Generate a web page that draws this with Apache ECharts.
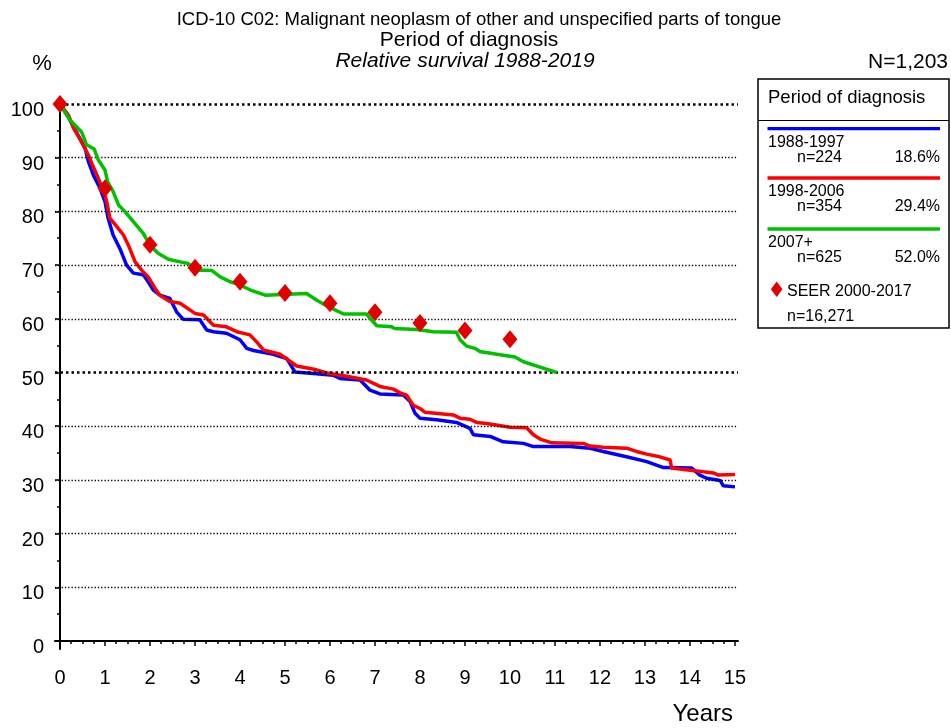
<!DOCTYPE html>
<html>
<head>
<meta charset="utf-8">
<script src="https://cdn.jsdelivr.net/npm/echarts@6/dist/echarts.min.js"></script>
<style>
html,body{margin:0;padding:0;background:#fff;}
#chart{width:951px;height:728px;}
</style>
</head>
<body>
<div id="chart"></div>
<script>
// ---- data ----
var titleLines = ['ICD-10 C02: Malignant neoplasm of other and unspecified parts of tongue', 'Period of diagnosis', 'Relative survival 1988-2019'];
var totalN = 'N=1,203';
var xTicks = [0,1,2,3,4,5,6,7,8,9,10,11,12,13,14,15];
var xMinorTicks = [0.25,0.5,0.75,1.25,1.5,1.75,2.25,2.5,2.75,3.25,3.5,3.75,4.25,4.5,4.75,5.25,5.5,5.75,6.25,6.5,6.75,7.25,7.5,7.75,8.25,8.5,8.75,9.25,9.5,9.75,10.25,10.5,10.75,11.25,11.5,11.75,12.25,12.5,12.75,13.25,13.5,13.75,14.25,14.5,14.75];
var yTicks = [0,10,20,30,40,50,60,70,80,90,100];
var yMinorTicks = [5,15,25,35,45,55,65,75,85,95];
var gridValues = [10,20,30,40,50,60,70,80,90,100];
var boldGridValues = [50,100];

var legendNames = ['1988-1997','1998-2006','2007+'];
var legendN = ['n=224','n=354','n=625'];
var legendPct = ['18.6%','29.4%','52.0%'];
var seerName = 'SEER 2000-2017';
var seerN = 'n=16,271';

var curve1988 = [[0,100],[0.19,97.5],[0.35,95],[0.56,91.7],[0.63,89.3],[0.74,86.8],[0.89,84.3],[1.0,81.8],[1.07,78.7],[1.18,75.6],[1.33,73.1],[1.48,70.0],[1.63,68.5],[1.85,68.2],[1.96,66.9],[2.07,65.4],[2.22,64.4],[2.44,63.8],[2.59,61.3],[2.74,59.9],[3.11,59.8],[3.26,57.9],[3.41,57.6],[3.70,57.3],[4.0,56.1],[4.15,54.5],[4.30,54.1],[4.74,53.4],[5.04,52.6],[5.22,50.1],[5.63,49.8],[6.07,49.5],[6.22,48.9],[6.67,48.6],[6.89,46.7],[7.11,46.0],[7.63,45.8],[7.78,44.6],[7.89,42.4],[8.0,41.5],[8.37,41.2],[8.81,40.7],[9.11,39.6],[9.19,38.4],[9.56,38.1],[9.85,37.1],[10.30,36.8],[10.52,36.2],[11.33,36.2],[11.78,35.9],[12.07,35.3],[12.59,34.3],[13.04,33.4],[13.41,32.3],[14.04,32.2],[14.22,30.9],[14.37,30.3],[14.67,29.9],[14.74,28.9],[15.0,28.7]];
var curve1998 = [[0,100],[0.19,97.9],[0.30,95.5],[0.48,93.0],[0.63,90.5],[0.74,88.3],[0.85,86.2],[0.96,84.0],[1.04,81.8],[1.11,78.7],[1.26,77.2],[1.41,75.6],[1.52,73.7],[1.67,70.6],[1.81,69.1],[1.96,67.8],[2.11,65.7],[2.22,64.4],[2.44,63.2],[2.67,62.9],[3.0,61.0],[3.19,60.7],[3.41,58.8],[3.70,58.5],[3.93,57.6],[4.22,57.0],[4.37,55.7],[4.52,54.2],[4.89,53.4],[5.26,51.2],[5.70,50.5],[5.93,49.9],[6.37,49.3],[6.81,48.6],[7.11,47.4],[7.41,46.9],[7.56,46.2],[7.70,45.8],[7.85,43.9],[8.0,43.3],[8.11,42.6],[8.74,42.1],[8.89,41.5],[9.11,41.3],[9.26,40.7],[9.48,40.5],[10.0,39.8],[10.37,39.7],[10.52,38.4],[10.67,37.6],[10.93,36.9],[11.63,36.8],[11.78,36.3],[12.07,36.1],[12.59,35.9],[12.81,35.3],[13.04,34.8],[13.33,34.3],[13.56,33.7],[13.59,32.2],[14.0,31.8],[14.30,31.5],[14.52,31.3],[14.63,30.9],[15.0,31.0]];
var curve2007 = [[0,100],[0.22,97.0],[0.48,94.8],[0.59,92.4],[0.76,91.6],[0.85,89.6],[1.0,87.7],[1.06,85.5],[1.18,83.7],[1.30,81.2],[1.44,80.0],[1.63,78.1],[1.85,75.9],[2.0,73.7],[2.18,72.2],[2.41,71.1],[2.67,70.6],[2.85,70.3],[3.0,69.1],[3.37,69.0],[3.56,67.8],[3.78,66.9],[4.0,66.3],[4.22,65.4],[4.56,64.4],[5.48,64.7],[5.70,63.5],[5.93,62.4],[6.30,60.9],[6.81,60.9],[6.89,60.1],[7.04,58.7],[7.37,58.5],[7.44,58.2],[7.93,58.0],[8.30,57.6],[8.81,57.5],[8.89,56.1],[9.04,54.9],[9.22,54.5],[9.33,53.9],[9.78,53.3],[10.11,52.9],[10.30,52.0],[10.67,51.0],[11.04,50.0]];
var seerYears = [0,1,2,3,4,5,6,7,8,9,10];
var seerValues = [100,84.3,73.8,69.5,66.9,64.8,62.9,61.2,59.2,57.8,56.2];

var colors = ['#0000ff','#ff0000','#00c000'];
var seerColor = '#e00000';
var FONT = 'Liberation Sans, Arial, sans-serif';

// ---- chart ----
var chart = echarts.init(document.getElementById('chart'), null, {renderer:'canvas'});

var curves = [curve1988, curve1998, curve2007];
var series = curves.map(function(c, i){
  return {type:'line', name: legendNames[i], data: c, showSymbol:false, symbol:'none',
    lineStyle:{color: colors[i], width:3.5}, itemStyle:{color: colors[i]}, z: 3 + i, silent:true, animation:false};
});
series.unshift({type:'line', data:[], silent:true, animation:false,
  markLine:{silent:true, symbol:'none', label:{show:false}, animation:false,
    data: gridValues.map(function(v){
      var bold = boldGridValues.indexOf(v) >= 0;
      return {yAxis:v, lineStyle: bold ? {color:'#000', width:2.5, type:[2.5,3]} : {color:'#000', width:1.3, type:[1.3,2]}};
    })}});
series.push({type:'scatter', name: seerName, data: seerYears.map(function(y,i){return [y, seerValues[i]];}),
  symbol:'diamond', symbolSize:[15,18], itemStyle:{color: seerColor, opacity:1}, z:10, silent:true, animation:false});

// legend graphics
var LX = 758, LY = 79, LW = 191, LH = 249;
var g = [];
g.push({type:'text', x:479, y:20, style:{text:titleLines[0], font:'18.5px '+FONT, fill:'#000', align:'center', verticalAlign:'middle'}});
g.push({type:'text', x:469, y:40, style:{text:titleLines[1], font:'21px '+FONT, fill:'#000', align:'center', verticalAlign:'middle'}});
g.push({type:'text', x:465, y:61, style:{text:titleLines[2], font:'italic 21px '+FONT, fill:'#000', align:'center', verticalAlign:'middle'}});
g.push({type:'text', x:42, y:64, style:{text:'%', font:'22px '+FONT, fill:'#000', align:'center', verticalAlign:'middle'}});
g.push({type:'text', x:948, y:62, style:{text:totalN, font:'21px '+FONT, fill:'#000', align:'right', verticalAlign:'middle'}});
g.push({type:'text', x:733, y:714, style:{text:'Years', font:'24px '+FONT, fill:'#000', align:'right', verticalAlign:'middle'}});
g.push({type:'rect', shape:{x:LX, y:LY, width:LW, height:LH}, style:{fill:'#fff', stroke:'#000', lineWidth:1.5}});
g.push({type:'line', shape:{x1:LX, y1:120.5, x2:LX+LW, y2:120.5}, style:{stroke:'#000', lineWidth:1.2}});
g.push({type:'text', x:768, y:98, style:{text:'Period of diagnosis', font:'18.5px '+FONT, fill:'#000', align:'left', verticalAlign:'middle'}});
var lineYs = [128.7, 178, 229];
for (var i=0;i<3;i++){
  var ly = lineYs[i];
  g.push({type:'line', shape:{x1:767.5, y1:ly, x2:940, y2:ly}, style:{stroke:colors[i], lineWidth:3.3}});
  g.push({type:'text', x:768, y:ly+13.5, style:{text:legendNames[i], font:'16px '+FONT, fill:'#000', align:'left', verticalAlign:'middle'}});
  g.push({type:'text', x:797, y:ly+28.5, style:{text:legendN[i], font:'16px '+FONT, fill:'#000', align:'left', verticalAlign:'middle'}});
  g.push({type:'text', x:940, y:ly+28.5, style:{text:legendPct[i], font:'16px '+FONT, fill:'#000', align:'right', verticalAlign:'middle'}});
}
g.push({type:'polygon', shape:{points:[[776.7,281.5],[782.5,289.3],[776.7,297.1],[770.9,289.3]]}, style:{fill:seerColor}});
g.push({type:'text', x:787, y:292, style:{text:seerName, font:'16px '+FONT, fill:'#000', align:'left', verticalAlign:'middle'}});
g.push({type:'text', x:787, y:317, style:{text:seerN, font:'16px '+FONT, fill:'#000', align:'left', verticalAlign:'middle'}});

var xMin = -0.111, xMax = 15.067, yMin = -1.49, yMax = 101.3;
var option = {
  animation:false,
  backgroundColor:'#fff',
  textStyle:{fontFamily:FONT},
  grid:{left:55, right:951-738, top:97, bottom:728-649, containLabel:false},
  xAxis:[
    {type:'value', min:xMin, max:xMax, position:'bottom',
     axisLine:{show:true, lineStyle:{color:'#000', width:2}},
     axisTick:{show:true, customValues:xTicks, length:5, lineStyle:{color:'#000', width:1.5}},
     axisLabel:{show:true, customValues:xTicks, fontSize:20, color:'#000', margin:19, fontFamily:FONT},
     splitLine:{show:false}},
    {type:'value', min:xMin, max:xMax, position:'bottom',
     axisLine:{show:false},
     axisTick:{show:true, customValues:xMinorTicks, length:3, lineStyle:{color:'#000', width:1.5}},
     axisLabel:{show:false}, splitLine:{show:false}}
  ],
  yAxis:[
    {type:'value', min:yMin, max:yMax, position:'left',
     axisLine:{show:true, lineStyle:{color:'#000', width:2}},
     axisTick:{show:true, customValues:yTicks, length:5, lineStyle:{color:'#000', width:1.5}},
     axisLabel:{show:true, customValues:yTicks, fontSize:20, color:'#000', margin:11, fontFamily:FONT, verticalAlign:'top', lineHeight:13},
     splitLine:{show:false}},
    {type:'value', min:yMin, max:yMax, position:'left',
     axisLine:{show:false},
     axisTick:{show:true, customValues:yMinorTicks, length:3, lineStyle:{color:'#000', width:1.5}},
     axisLabel:{show:false}, splitLine:{show:false}}
  ],
  series: series,
  graphic: g
};
chart.setOption(option);
</script>
</body>
</html>
